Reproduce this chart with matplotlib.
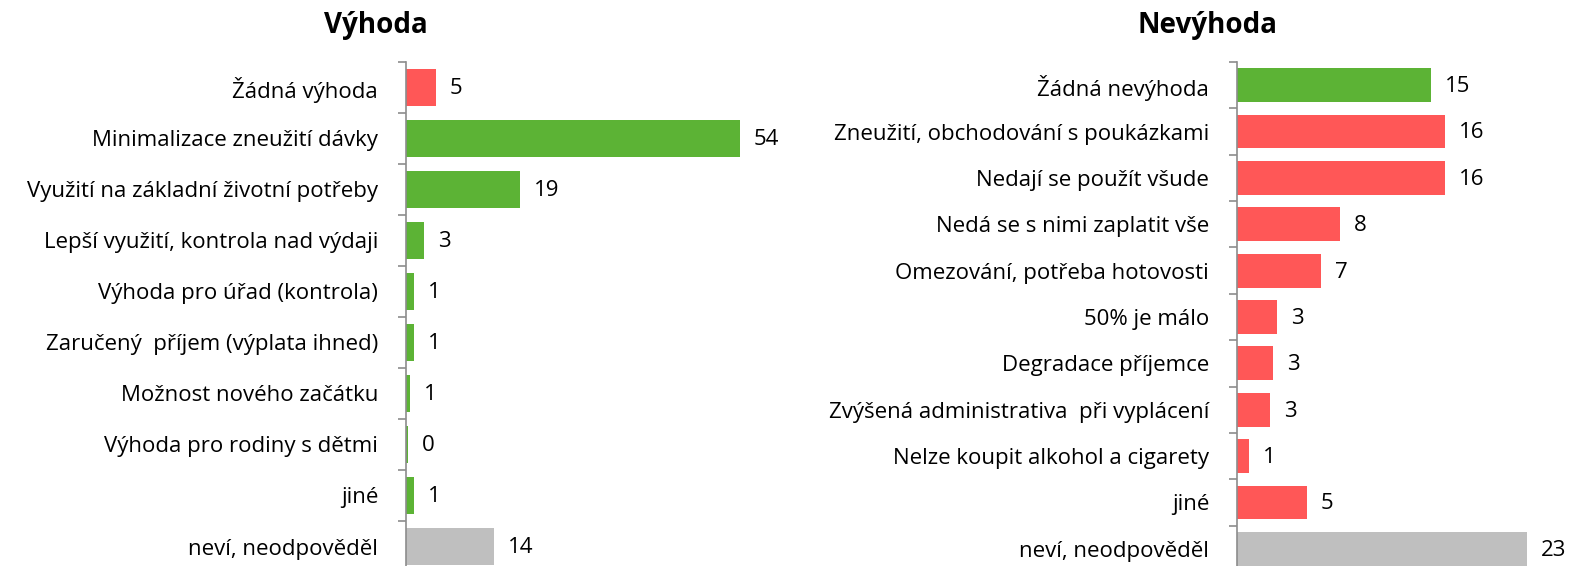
import matplotlib
matplotlib.use("Agg")
import matplotlib.pyplot as plt
import numpy as np

plt.rcParams['font.family'] = ['Open Sans', 'DejaVu Sans']

# Výhoda (left panel)
adv_labels = [
    "Žádná výhoda",
    "Minimalizace zneužití dávky",
    "Využití na základní životní potřeby",
    "Lepší využití, kontrola nad výdaji",
    "Výhoda pro úřad (kontrola)",
    "Zaručený  příjem (výplata ihned)",
    "Možnost nového začátku",
    "Výhoda pro rodiny s dětmi",
    "jiné",
    "neví, neodpověděl",
]
adv_values = [4.9, 54.3, 18.55, 2.9, 1.3, 1.3, 0.65, 0.3, 1.3, 14.35]
adv_kind = ["neg", "pos", "pos", "pos", "pos", "pos", "pos", "pos", "pos", "na"]

# Nevýhoda (right panel)
dis_labels = [
    "Žádná nevýhoda",
    "Zneužití, obchodování s poukázkami",
    "Nedají se použít všude",
    "Nedá se s nimi zaplatit vše",
    "Omezování, potřeba hotovosti",
    "50% je málo",
    "Degradace příjemce",
    "Zvýšená administrativa  při vyplácení",
    "Nelze koupit alkohol a cigarety",
    "jiné",
    "neví, neodpověděl",
]
dis_values = [15.1, 16.2, 16.2, 8.0, 6.55, 3.15, 2.8, 2.55, 0.95, 5.45, 22.6]
dis_kind = ["pos", "neg", "neg", "neg", "neg", "neg", "neg", "neg", "neg", "neg", "na"]

colors = {"pos": "#5cb335", "neg": "#ff5757", "na": "#bfbfbf"}
W, H = 1571, 566
FS = 16


def panel(fig, rect, labels, values, kinds, xmax, bar_h):
    ax = fig.add_axes(rect)
    y = np.arange(len(labels))
    ax.barh(y, values, height=bar_h, color=[colors[k] for k in kinds])
    ax.set_xlim(0, xmax)
    ax.set_ylim(len(labels) - 0.5, -0.5)
    ax.set_yticks(y)
    ax.set_yticklabels(labels, fontsize=FS)
    ax.set_yticks(np.arange(len(labels) + 1) - 0.5, minor=True)
    ax.tick_params(axis="y", which="major", length=0, pad=20)
    ax.tick_params(axis="y", which="minor", length=6, width=1.2,
                   color="#8c8c8c", direction="out")
    ax.set_xticks([])
    for s in ["top", "right", "bottom"]:
        ax.spines[s].set_visible(False)
    ax.spines["left"].set_color("#8c8c8c")
    ax.spines["left"].set_linewidth(1.2)
    for yi, v in zip(y, values):
        ax.annotate(f"{v:.0f}", (v, yi), xytext=(10, -1),
                    textcoords="offset points", va="center", ha="left",
                    fontsize=FS, annotation_clip=False)
    return ax


fig = plt.figure(figsize=(W / 100, H / 100), dpi=100)

bottom = -6 / H
height = 510 / H
panel(fig, [406 / W, bottom, 369 / W, height],
      adv_labels, adv_values, adv_kind, 60, 0.74)
panel(fig, [1237 / W, bottom, 321 / W, height],
      dis_labels, dis_values, dis_kind, 25, 0.73)

fig.text(376 / W, 1 - 26 / H, "Výhoda", ha="center", va="center",
         fontsize=20, fontweight="bold")
fig.text(1207 / W, 1 - 26 / H, "Nevýhoda", ha="center", va="center",
         fontsize=20, fontweight="bold")

fig.savefig("out.png", dpi=100)
